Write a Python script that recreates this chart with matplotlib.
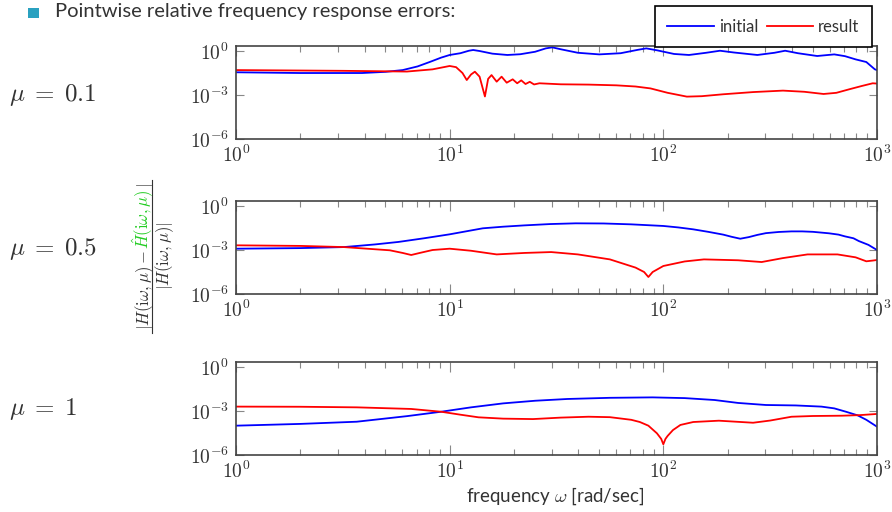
import matplotlib
matplotlib.use("Agg")
import matplotlib.pyplot as plt
import numpy as np
from matplotlib.lines import Line2D
from matplotlib.patches import Rectangle

plt.rcParams['mathtext.fontset'] = 'cm'

# data: log10(omega), log10(error)
mu_labels = [r'$\mu\;=\;0.1$', r'$\mu\;=\;0.5$', r'$\mu\;=\;1$']

p1_init_lw = [0.0, 0.3, 0.59, 0.70, 0.78, 0.85, 0.91, 0.96, 1.00, 1.05, 1.09, 1.11, 1.14, 1.20,
              1.27, 1.33, 1.40, 1.45, 1.48, 1.52, 1.60, 1.70, 1.80, 1.88, 1.92, 1.97, 2.05,
              2.12, 2.20, 2.265, 2.33, 2.44, 2.52, 2.57, 2.63, 2.72, 2.80, 2.85, 2.90, 2.95, 2.99, 3.0]
p1_init_le = [-1.45, -1.50, -1.50, -1.42, -1.30, -1.05, -0.73, -0.45, -0.27, -0.15, 0.02, 0.07, 0.0, -0.18,
              -0.27, -0.22, -0.05, 0.18, 0.25, 0.12, -0.12, -0.23, -0.15, 0.08, 0.18, 0.05, -0.20,
              -0.27, -0.12, 0.02, -0.10, -0.27, -0.12, 0.02, -0.15, -0.34, -0.23, -0.35, -0.57, -0.75, -1.25, -1.30]
p1_res_lw = [0.0, 0.5, 0.8, 0.92, 1.0, 1.03, 1.06, 1.08, 1.10, 1.118, 1.14, 1.165, 1.18, 1.196, 1.22,
             1.243, 1.267, 1.295, 1.316, 1.335, 1.355, 1.375, 1.395, 1.42, 1.52, 1.65, 1.78, 1.87, 1.94, 2.02,
             2.11, 2.18, 2.28, 2.42, 2.56, 2.66, 2.75, 2.81, 2.87, 2.93, 2.98, 3.0]
p1_res_le = [-1.30, -1.35, -1.40, -1.25, -1.02, -1.10, -1.50, -1.98, -1.60, -1.41, -1.75, -3.10, -1.90, -1.64, -2.09,
             -1.75, -2.16, -1.93, -2.20, -2.00, -2.25, -2.10, -2.28, -2.20, -2.27, -2.29, -2.34, -2.42, -2.55, -2.85,
             -3.11, -3.08, -2.95, -2.80, -2.70, -2.78, -2.93, -2.85, -2.61, -2.38, -2.20, -2.22]

p2_init_lw = [0.0, 0.3, 0.505, 0.65, 0.76, 0.88, 1.0, 1.155, 1.25, 1.35, 1.47, 1.59, 1.72, 1.85, 2.0, 2.07,
              2.14, 2.21, 2.28, 2.32, 2.36, 2.40, 2.44, 2.48, 2.54, 2.60, 2.65, 2.70, 2.775, 2.82, 2.85,
              2.89, 2.915, 2.96, 3.0]
p2_init_le = [-2.91, -2.87, -2.80, -2.62, -2.45, -2.20, -1.93, -1.52, -1.41, -1.32, -1.23, -1.18, -1.19, -1.25,
              -1.36, -1.46, -1.59, -1.76, -1.95, -2.10, -2.23, -2.12, -1.97, -1.85, -1.77, -1.73, -1.73, -1.76,
              -1.86, -1.95, -2.07, -2.20, -2.39, -2.65, -3.00]
p2_res_lw = [0.0, 0.3, 0.505, 0.72, 0.78, 0.82, 0.86, 0.92, 1.0, 1.10, 1.22, 1.35, 1.475, 1.60, 1.75, 1.87,
             1.91, 1.93, 1.95, 2.0, 2.10, 2.19, 2.35, 2.46, 2.56, 2.675, 2.815, 2.90, 2.95, 2.98, 3.0]
p2_res_le = [-2.68, -2.72, -2.80, -3.02, -3.20, -3.34, -3.20, -3.00, -2.91, -3.05, -3.30, -3.20, -3.14, -3.30,
             -3.64, -4.20, -4.50, -4.84, -4.50, -4.09, -3.78, -3.64, -3.70, -3.82, -3.55, -3.30, -3.30, -3.50,
             -3.77, -3.72, -3.68]

p3_init_lw = [0.0, 0.3, 0.565, 0.8, 0.96, 1.1, 1.25, 1.4, 1.55, 1.75, 1.95, 2.1, 2.24, 2.35,
              2.48, 2.62, 2.74, 2.8, 2.855, 2.91, 2.95, 3.0]
p3_init_le = [-4.00, -3.88, -3.73, -3.35, -3.05, -2.75, -2.48, -2.30, -2.18, -2.10, -2.07, -2.12, -2.25, -2.45,
              -2.59, -2.62, -2.70, -2.82, -3.05, -3.30, -3.60, -4.07]
p3_res_lw = [0.0, 0.3, 0.565, 0.82, 0.96, 1.05, 1.135, 1.25, 1.39, 1.52, 1.65, 1.75, 1.85, 1.89, 1.93, 1.97,
             1.99, 2.0, 2.01, 2.02, 2.045, 2.08, 2.14, 2.26, 2.42, 2.5, 2.6, 2.7, 2.835, 2.92, 3.0]
p3_res_le = [-2.70, -2.71, -2.75, -2.86, -3.05, -3.25, -3.43, -3.52, -3.55, -3.45, -3.39, -3.42, -3.60, -3.75,
             -4.00, -4.52, -4.90, -5.27, -4.90, -4.70, -4.30, -3.95, -3.75, -3.66, -3.80, -3.65, -3.39, -3.34,
             -3.32, -3.28, -3.20]

panels = [
    (p1_init_lw, p1_init_le, p1_res_lw, p1_res_le),
    (p2_init_lw, p2_init_le, p2_res_lw, p2_res_le),
    (p3_init_lw, p3_init_le, p3_res_lw, p3_res_le),
]

xticks = [1e0, 1e1, 1e2, 1e3]
xtick_labels = [r'$10^{0}$', r'$10^{1}$', r'$10^{2}$', r'$10^{3}$']
yticks = [1e-6, 1e-3, 1e0]
ytick_labels = [r'$10^{-6}$', r'$10^{-3}$', r'$10^{0}$']

W, H = 892, 512
fig = plt.figure(figsize=(W / 100, H / 100), dpi=100)

frame_col = '#444444'
tick_col = '#888888'
text_col = '#333333'

# axes boxes in pixels: (top, bottom)
boxes = [(46, 139), (201, 294), (362, 455)]
left_px, right_px = 236, 877
mu_y = [95, 249, 409]

axes = []
for i, (top, bot) in enumerate(boxes):
    ax = fig.add_axes([left_px / W, 1 - bot / H, (right_px - left_px) / W, (bot - top) / H])
    iw, ie, rw, re = panels[i]
    ax.plot(10 ** np.array(iw), 10 ** np.array(ie), color='#0000ff', lw=1.3)
    ax.plot(10 ** np.array(rw), 10 ** np.array(re), color='#ff0000', lw=1.3)
    ax.set_xscale('log')
    ax.set_yscale('log')
    ax.set_xlim(1, 1000)
    ax.set_ylim(1e-6, 2.2)
    ax.set_xticks(xticks)
    ax.set_xticklabels(xtick_labels)
    ax.set_yticks(yticks)
    ax.set_yticklabels(ytick_labels)
    ax.yaxis.set_minor_locator(matplotlib.ticker.NullLocator())
    ax.tick_params(axis='x', which='major', direction='in', length=7, width=0.8, color=tick_col,
                   top=True, labelsize=14, labelcolor=text_col, pad=4)
    ax.tick_params(axis='x', which='minor', direction='in', length=4.5, width=0.8, color=tick_col, top=True)
    ax.tick_params(axis='y', which='major', direction='in', length=6, width=0.8, color=tick_col,
                   right=True, labelsize=14, labelcolor=text_col, pad=5)
    for s in ax.spines.values():
        s.set_color(frame_col)
        s.set_linewidth(1.2)
    fig.text(9 / W, 1 - mu_y[i] / H, mu_labels[i], fontsize=18, color=text_col, va='center', ha='left')
    axes.append(ax)

# title with bullet
fig.patches.append(Rectangle((28 / W, 1 - 18 / H), 11 / W, 10 / H, transform=fig.transFigure,
                             facecolor='#2aa1c0', edgecolor='none'))
fig.text(55 / W, 1 - 11 / H, 'Pointwise relative frequency response errors:', fontsize=14.5,
         family='Lato', color=text_col, va='center', ha='left')

# legend
handles = [Line2D([], [], color='#0000ff', lw=1.3), Line2D([], [], color='#ff0000', lw=1.3)]
leg = fig.legend(handles, ['initial', 'result'], ncol=2, loc='upper right',
                 bbox_to_anchor=(872 / W, 1 - 6 / H), frameon=True, fancybox=False,
                 edgecolor='black', framealpha=1, prop={'family': 'Lato', 'size': 12},
                 handlelength=2.8, handletextpad=0.3, columnspacing=0.5, borderpad=0.75,
                 borderaxespad=0)
leg.get_frame().set_linewidth(1.2)
for t in leg.get_texts():
    t.set_color(text_col)

# x label
fig.text(555 / W, 1 - 496 / H, r'frequency $\omega$ [rad/sec]', fontsize=13.5, family='Lato',
         color=text_col, ha='center', va='center')

# y label: fraction with green H-hat
fig.canvas.draw()
renderer = fig.canvas.get_renderer()
num_x = 149 / W
y0 = 1 - 330 / H
pieces = [(r'$|H(\mathrm{i}\omega,\mu)-$', text_col), (r'$\hat{H}(\mathrm{i}\omega,\mu)$', '#22cc22'),
          (r'$|$', text_col)]
y_cur = y0
for txt, col in pieces:
    t = fig.text(num_x, y_cur, txt, rotation=90, rotation_mode='anchor', ha='left', va='baseline',
                 fontsize=12, color=col)
    bb = t.get_window_extent(renderer)
    y_cur = bb.y1 / H + 1 / H
y_end = y_cur
fig.add_artist(Line2D([152 / W, 152 / W], [y0 - 3 / H, y_end + 2 / H], transform=fig.transFigure,
                      color=text_col, lw=0.8))
fig.text(153 / W, (y0 + y_end) / 2, r'$|H(\mathrm{i}\omega,\mu)|$', rotation=90, rotation_mode='anchor',
         ha='center', va='top', fontsize=12, color=text_col)

fig.savefig('out.png', dpi=100)
